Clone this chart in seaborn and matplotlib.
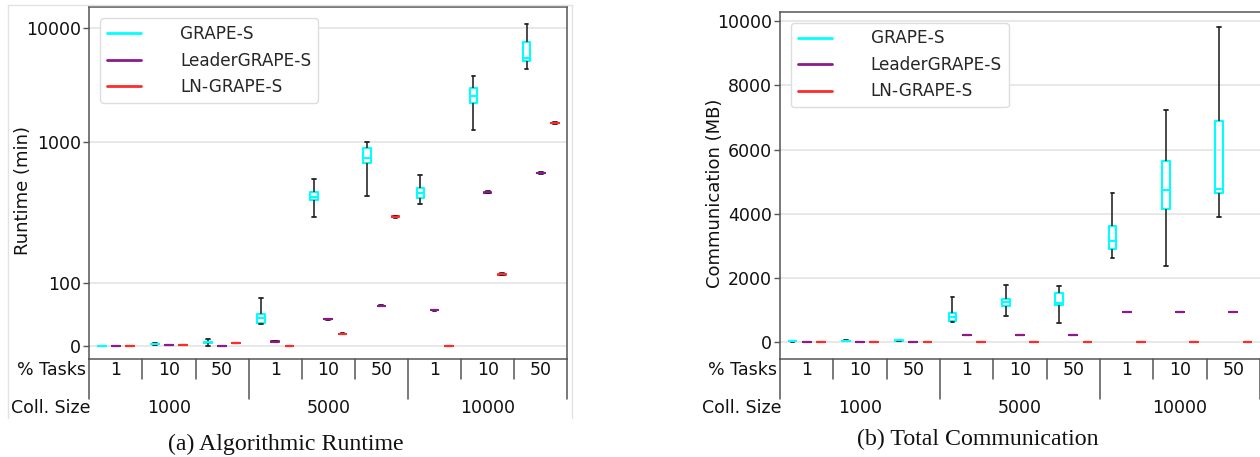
import numpy as np
import pandas as pd
import matplotlib
matplotlib.use("Agg")
import matplotlib.pyplot as plt
from matplotlib.lines import Line2D
import seaborn as sns

# ---------------- data ----------------
methods = ["GRAPE-S", "LeaderGRAPE-S", "LN-GRAPE-S"]
coll_sizes = ["1000", "5000", "10000"]
pct_tasks = ["1", "10", "50"]
cells = [f"{c}-{p}" for c in coll_sizes for p in pct_tasks]

# five-number summaries [min, q1, median, q3, max] per cell (runtime, minutes)
runtime_grape = [
    [0.1, 0.2, 0.3, 0.4, 0.6],
    [1.5, 2.5, 3.0, 3.5, 5.0],
    [0.5, 4.5, 6.0, 7.0, 11.0],
    [35, 37, 44, 51, 77],
    [295, 388, 409, 439, 545],
    [416, 711, 763, 898, 1000],
    [363, 398, 432, 473, 582],
    [1270, 2180, 2530, 2960, 3820],
    [4380, 5150, 5500, 7620, 10900],
]
runtime_leader = [
    [0.1, 0.15, 0.2, 0.25, 0.3],
    [0.8, 0.9, 1.0, 1.1, 1.2],
    [0.4, 0.5, 0.5, 0.6, 0.7],
    [6.5, 6.8, 7.0, 7.2, 7.5],
    [42.0, 42.4, 42.6, 42.8, 43.2],
    [63.0, 63.5, 63.8, 64.1, 64.6],
    [56.3, 56.7, 57.0, 57.3, 57.7],
    [432, 436, 439, 442, 446],
    [592, 598, 601, 604, 610],
]
runtime_ln = [
    [0.3, 0.4, 0.5, 0.6, 0.7],
    [1.2, 1.4, 1.5, 1.6, 1.8],
    [4.0, 4.2, 4.3, 4.4, 4.6],
    [0.0, 0.1, 0.2, 0.3, 0.4],
    [19.2, 19.4, 19.6, 19.8, 20.0],
    [290, 293, 295, 297, 300],
    [0.3, 0.4, 0.5, 0.6, 0.7],
    [114, 115, 116, 117, 118],
    [1440, 1450, 1460, 1470, 1480],
]

# five-number summaries per cell (communication, MB)
comm_grape = [
    [20, 30, 40, 45, 55],
    [30, 40, 45, 55, 65],
    [40, 50, 62, 70, 90],
    [641, 672, 796, 921, 1400],
    [818, 1129, 1244, 1356, 1782],
    [591, 1160, 1232, 1543, 1760],
    [2622, 2902, 3160, 3626, 4653],
    [2382, 4136, 4758, 5648, 7246],
    [3888, 4634, 4789, 6892, 9806],
]
comm_leader = [
    [4, 4, 4, 4, 4],
    [4, 4, 4, 4, 4],
    [4, 4, 4, 4, 4],
    [218, 218, 218, 218, 218],
    [218, 218, 218, 218, 218],
    [218, 218, 218, 218, 218],
    [950, 950, 950, 950, 950],
    [950, 950, 950, 950, 950],
    [950, 950, 950, 950, 950],
]
comm_ln = [
    [1, 1, 1, 1, 1],
    [1, 1, 1, 1, 1],
    [1, 1, 1, 1, 1],
    [1, 1, 1, 1, 1],
    [1, 1, 1, 1, 1],
    [1, 1, 1, 1, 1],
    [1, 1, 1, 1, 1],
    [1, 1, 1, 1, 1],
    [1, 1, 1, 1, 1],
]

runtime_ticks = [0, 100, 1000, 10000]
comm_ticks = [0, 2000, 4000, 6000, 8000, 10000]
colors = {"GRAPE-S": "#00ffff", "LeaderGRAPE-S": "#8b1a8b", "LN-GRAPE-S": "#ff2a2a"}


def long_frame(series_list):
    rows = []
    for m, series in zip(methods, series_list):
        for cell, vals in zip(cells, series):
            for v in vals:
                rows.append((cell, m, v))
    return pd.DataFrame(rows, columns=["cell", "method", "value"])


df_rt = long_frame([runtime_grape, runtime_leader, runtime_ln])
df_cm = long_frame([comm_grape, comm_leader, comm_ln])

# ---------------- style ----------------
sns.set_style("white")
plt.rcParams["font.family"] = ["DejaVu Sans"]

W, H = 1260, 457
fig = plt.figure(figsize=(W / 100, H / 100), dpi=100)

posL = [89.3, 7.3, 567.3, 358.5]   # left, top, right, bottom in px
posR = [780.0, 11.7, 1260.0, 358.5]


def add_ax(p):
    l, t, r, b = p
    return fig.add_axes([l / W, 1 - b / H, (r - l) / W, (b - t) / H])


axL = add_ax(posL)
axR = add_ax(posR)

# custom y scale for runtime: linear 0..100, then per-decade log
kt = np.array([0.0, 1.0, 2.0, 3.0])
kp = np.array([0.0, 62.7, 204.3, 317.7])


def _t(x):
    x = np.asarray(x, dtype=float)
    return np.where(x <= 100, x / 100.0, 1 + np.log10(np.maximum(x, 100) / 100.0))


def fwd(x):
    tt = _t(x)
    return np.where(tt < 0, tt * kp[1],
                    np.where(tt > 3, kp[3] + (tt - 3) * (kp[3] - kp[2]), np.interp(tt, kt, kp)))


def inv(p):
    p = np.asarray(p, dtype=float)
    tt = np.where(p < 0, p / kp[1],
                  np.where(p > kp[3], 3 + (p - kp[3]) / (kp[3] - kp[2]), np.interp(p, kp, kt)))
    with np.errstate(over="ignore"):
        return np.where(tt <= 1, tt * 100.0, 100.0 * 10 ** (np.minimum(tt, 30) - 1))


box_kw = dict(x="cell", y="value", hue="method", order=cells, hue_order=methods,
              palette=colors, fill=False, width=0.8, gap=0.46, whis=(0, 100),
              linewidth=1.5, showfliers=False, legend=False,
              whiskerprops=dict(color="#3a3a3a", linewidth=1.3),
              capprops=dict(color="#222222", linewidth=1.3))

sns.boxplot(data=df_rt, ax=axL, **box_kw)
sns.boxplot(data=df_cm, ax=axR, **box_kw)

axL.set_yscale("function", functions=(fwd, inv))
axL.set_ylim(-20, 15300)
axL.set_yticks(runtime_ticks)
axL.set_yticklabels([str(v) for v in runtime_ticks])
axL.yaxis.set_minor_locator(matplotlib.ticker.NullLocator())

axR.set_ylim(-500, 10290)
axR.set_yticks(comm_ticks)
axR.set_yticklabels([str(v) for v in comm_ticks])

spine_c = "#555555"
for ax, p, ylabel in [(axL, posL, "Runtime (min)"), (axR, posR, "Communication (MB)")]:
    wpx = p[2] - p[0]
    hpx = p[3] - p[1]
    ax.set_xlim(-0.5, 8.5)
    ax.yaxis.grid(True, color="#e4e4e4", linewidth=1.2)
    ax.set_axisbelow(True)
    for s in ax.spines.values():
        s.set_color(spine_c)
        s.set_linewidth(1.1)
    ax.tick_params(axis="y", labelsize=12.5, length=4, width=1, color=spine_c,
                   labelcolor="#111111", pad=2, left=True)
    ax.set_xticks(range(9))
    ax.set_xticklabels([])
    ax.tick_params(axis="x", length=0)
    ax.set_xlabel("")
    ax.set_ylabel(ylabel, fontsize=13, color="#111111")
    # category table
    xt = ax.get_xaxis_transform()
    for i, lab in enumerate(pct_tasks * 3):
        ax.text(i, -(370.0 - p[3]) / hpx, lab, transform=xt, ha="center", va="center",
                fontsize=12.5, color="#111111")
    for g, lab in enumerate(coll_sizes):
        ax.text(3 * g + 1, -(408.0 - p[3]) / hpx, lab, transform=xt,
                ha="center", va="center", fontsize=12.5, color="#111111")
    for xs in [0.5, 1.5, 3.5, 4.5, 6.5, 7.5]:
        ax.plot([xs, xs], [0, -20 / hpx], transform=xt, clip_on=False, color=spine_c, lw=1.1)
    for xs in [-0.5, 2.5, 5.5, 8.5]:
        ax.plot([xs, xs], [0, -40 / hpx], transform=xt, clip_on=False, color=spine_c, lw=1.1)
    ax.text(-3.5 / wpx, -(370.0 - p[3]) / hpx, "% Tasks", transform=ax.transAxes,
            ha="right", va="center", fontsize=12.5, color="#111111")
    ax.text(1.4 / wpx, -(408.0 - p[3]) / hpx, "Coll. Size", transform=ax.transAxes,
            ha="right", va="center", fontsize=12.5, color="#111111")
    handles = [Line2D([], [], color=colors[m], lw=2) for m in methods]
    ax.legend(handles, methods, loc="upper left", fontsize=12.2, handlelength=2.0,
              handletextpad=2.3, frameon=True, edgecolor="#dddddd", framealpha=1,
              borderaxespad=0.65)

# label anchor is the (rotated) text bottom, i.e. its right edge: offset by ~half height
axL.yaxis.set_label_coords((32 - posL[0]) / (posL[2] - posL[0]), 0.477)
axR.yaxis.set_label_coords((724 - posR[0]) / (posR[2] - posR[0]), 0.477)
axR.spines["right"].set_visible(False)

# light panel frame around (a)
fc = "#e2e2e2"
for xs, ys in [([8, 8], [5, 418]), ([8, 571.7], [5, 5]), ([571.7, 571.7], [5, 418])]:
    fig.add_artist(Line2D([x / W for x in xs], [1 - y / H for y in ys], color=fc, lw=1))

fig.text(286 / W, 1 - 444.5 / H, "(a) Algorithmic Runtime", ha="center", va="center",
         family="Liberation Serif", fontsize=17.2, color="#111111")
fig.text(978 / W, 1 - 439 / H, "(b) Total Communication", ha="center", va="center",
         family="Liberation Serif", fontsize=17.2, color="#111111")

fig.savefig("out.png", dpi=100)
